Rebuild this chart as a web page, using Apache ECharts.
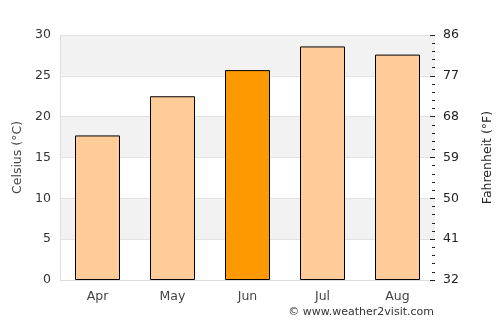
<!DOCTYPE html>
<html><head><meta charset="utf-8">
<script src="https://cdn.jsdelivr.net/npm/echarts@6/dist/echarts.min.js"></script>
<style>html,body{margin:0;padding:0;background:#fff}#c{width:500px;height:325px}</style>
</head><body><div id="c"></div>
<script>
const months = ['Apr', 'May', 'Jun', 'Jul', 'Aug'];
const celsius = [17.7, 22.5, 25.7, 28.6, 27.6];
const highlightMonth = 'Jun';
const celsiusTicks = [0, 5, 10, 15, 20, 25, 30];
const fahrenheitTicks = [32, 41, 50, 59, 68, 77, 86];

const font = 'DejaVu Sans';
const fs = 12.5;
const chart = echarts.init(document.getElementById('c'), null, {renderer: 'canvas'});
chart.setOption({
  animation: false,
  backgroundColor: '#fff',
  grid: {left: 60, right: 65, top: 35, bottom: 45, containLabel: false, outerBoundsMode: 'none'},
  xAxis: {
    type: 'category', data: months,
    axisLine: {show: true, lineStyle: {color: '#dddddd'}},
    axisTick: {show: false},
    axisLabel: {color: '#444', fontFamily: font, fontSize: fs, margin: 10}
  },
  yAxis: [{
    type: 'value', min: celsiusTicks[0], max: celsiusTicks[celsiusTicks.length - 1], interval: 5,
    name: 'Celsius (°C)', nameLocation: 'middle', nameGap: 34,
    nameTextStyle: {color: '#444', fontFamily: font, fontSize: fs},
    axisLine: {show: true, lineStyle: {color: '#dddddd'}},
    axisTick: {show: false},
    axisLabel: {color: '#333', fontFamily: font, fontSize: fs, margin: 9},
    splitLine: {show: true, lineStyle: {color: '#e2e2e2'}},
    splitArea: {show: true, areaStyle: {color: ['#ffffff', '#f2f2f2']}}
  }, {
    type: 'value', position: 'right',
    min: fahrenheitTicks[0], max: fahrenheitTicks[fahrenheitTicks.length - 1], interval: 9,
    name: 'Fahrenheit (°F)', nameLocation: 'middle', nameGap: 46, nameRotate: 90,
    nameTextStyle: {color: '#222', fontFamily: font, fontSize: fs},
    axisLine: {show: false},
    axisTick: {show: true, inside: true, length: 5, lineStyle: {color: '#222'}},
    minorTick: {show: true, splitNumber: 5, length: 3, lineStyle: {color: '#222'}},
    axisLabel: {color: '#222', fontFamily: font, fontSize: fs, margin: 8},
    splitLine: {show: false}
  }],
  series: [{
    type: 'bar', yAxisIndex: 0, barWidth: '60%',
    data: celsius.map((v, i) => ({
      value: v,
      itemStyle: {color: months[i] === highlightMonth ? '#ff9900' : '#ffcc99'}
    })),
    itemStyle: {borderColor: '#000', borderWidth: 1}
  }],
  graphic: [{
    type: 'text', right: 66, top: 307,
    style: {text: '© www.weather2visit.com', fill: '#333', font: '11px "DejaVu Sans"'}
  }]
});
</script></body></html>
